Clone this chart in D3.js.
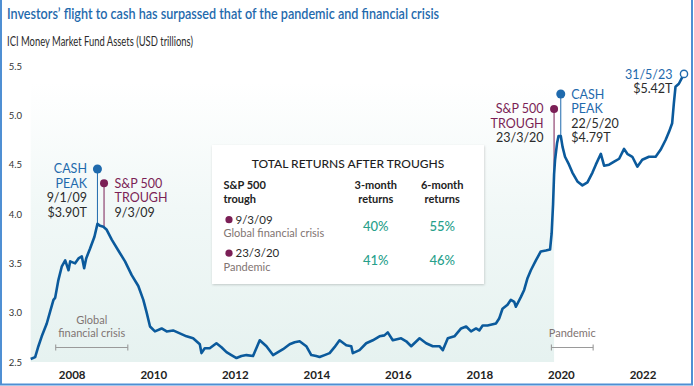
<!DOCTYPE html>
<html><head><meta charset="utf-8">
<script src="https://cdn.jsdelivr.net/npm/d3@7"></script>
<style>
body{margin:0;background:#fff}
svg{display:block}
text{font-family:Lato,"Open Sans","DejaVu Sans",sans-serif}
</style>
</head><body>
<svg id="c" width="694" height="386"></svg>
<script>
// ---------------- DATA ----------------
const dates = ["2007-05-22","2007-07-01","2007-07-30","2007-08-29","2007-10-13","2007-11-12","2007-12-12","2007-12-27",
"2008-01-25","2008-02-25","2008-03-26","2008-04-25","2008-05-10","2008-06-23","2008-07-23","2008-08-22","2008-09-12","2008-09-30","2008-11-04","2008-12-13",
"2009-01-09","2009-02-02","2009-03-03","2009-04-02","2009-05-17","2009-07-15","2009-09-13","2009-11-12",
"2010-01-10","2010-02-24","2010-03-26","2010-04-25","2010-06-08","2010-08-07","2010-09-21","2010-11-18",
"2011-01-17","2011-03-18","2011-05-16","2011-07-15","2011-07-30","2011-08-28","2011-10-12","2011-12-11",
"2012-01-25","2012-03-10","2012-04-23","2012-06-08","2012-07-22","2012-09-05","2012-11-03",
"2013-01-02","2013-02-01","2013-03-03","2013-05-01","2013-06-15","2013-07-30","2013-09-27","2013-11-11","2013-12-25",
"2014-02-23","2014-04-09","2014-05-23","2014-06-22","2014-08-06","2014-09-20","2014-11-03","2014-12-18",
"2015-02-16","2015-04-02","2015-04-16","2015-06-15","2015-08-14","2015-10-12","2015-12-11",
"2016-01-24","2016-02-23","2016-04-08","2016-06-22","2016-08-06","2016-09-20","2016-12-04",
"2017-02-01","2017-04-01","2017-05-31","2017-06-30","2017-08-14","2017-10-12","2017-12-11",
"2018-01-25","2018-03-10","2018-04-24","2018-05-23","2018-06-22","2018-08-05","2018-10-19","2018-11-17","2018-12-17",
"2019-01-31","2019-03-02","2019-04-01","2019-04-16","2019-05-31","2019-06-29","2019-07-29","2019-08-28","2019-10-12","2019-11-25",
"2020-01-09","2020-02-16","2020-03-01","2020-03-14","2020-03-23","2020-04-01","2020-04-19","2020-05-02","2020-05-22","2020-06-07","2020-06-29","2020-08-04","2020-09-03","2020-10-18","2020-12-02",
"2021-01-16","2021-03-02","2021-04-01","2021-05-16","2021-06-14","2021-07-29","2021-09-12","2021-10-27","2021-12-10",
"2022-01-08","2022-02-22","2022-04-08","2022-05-22","2022-07-21","2022-09-19","2022-11-02","2022-12-17",
"2023-01-16","2023-02-14","2023-03-01","2023-03-16","2023-04-15","2023-05-31"];
const assets = [2.53,2.55,2.66,2.76,2.89,3.01,3.13,3.15,
3.33,3.47,3.53,3.43,3.52,3.50,3.55,3.57,3.45,3.55,3.65,3.77,
3.90,3.88,3.87,3.84,3.74,3.63,3.52,3.38,
3.27,3.13,3.00,2.86,2.81,2.84,2.81,2.82,
2.79,2.76,2.74,2.68,2.59,2.64,2.64,2.69,
2.65,2.60,2.57,2.54,2.56,2.57,2.56,
2.72,2.69,2.66,2.57,2.60,2.63,2.68,2.70,2.71,
2.66,2.57,2.56,2.55,2.57,2.59,2.65,2.72,
2.67,2.66,2.59,2.62,2.69,2.72,2.76,
2.77,2.80,2.72,2.74,2.71,2.66,2.74,
2.69,2.66,2.66,2.62,2.74,2.76,2.84,
2.86,2.81,2.84,2.82,2.87,2.87,2.89,2.94,3.04,
3.08,3.13,3.11,3.06,3.16,3.23,3.35,3.43,3.53,3.62,
3.63,3.64,3.80,4.10,4.40,4.55,4.72,4.79,4.79,4.68,4.58,4.50,4.42,4.33,4.29,
4.32,4.42,4.50,4.61,4.49,4.50,4.53,4.56,4.66,
4.61,4.58,4.48,4.55,4.58,4.58,4.65,4.75,
4.83,4.92,5.12,5.29,5.32,5.42];

const yTicks = [2.5, 3.0, 3.5, 4.0, 4.5, 5.0, 5.5];
const xTickYears = [2008, 2010, 2012, 2014, 2016, 2018, 2020, 2022];

const title = "Investors\u2019 flight to cash has surpassed that of the pandemic and financial crisis";
const subtitle = "ICI Money Market Fund Assets (USD trillions)";

const crisisNames = [["Global", "financial crisis"], ["Pandemic"]];
const crisisStart = ["2008-01-01", "2020-02-28"];
const crisisEnd = ["2009-10-08", "2021-03-08"];

const peakDates = ["2009-01-09", "2020-05-22"];
const peakLabels = [["CASH", "PEAK", "9/1/09", "$3.90T"], ["CASH", "PEAK", "22/5/20", "$4.79T"]];
const troughDates = ["2009-03-09", "2020-03-23"];
const troughLabels = [["S&P 500", "TROUGH", "9/3/09"], ["S&P 500", "TROUGH", "23/3/20"]];
const lastLabel = ["31/5/23", "$5.42T"];

const tableTitle = "TOTAL RETURNS AFTER TROUGHS";
const tableHeaders = [["S&P 500", "trough"], ["3-month", "returns"], ["6-month", "returns"]];
const tableTroughs = ["9/3/09", "23/3/20"];
const tableEvents = ["Global financial crisis", "Pandemic"];
const returns3m = ["40%", "41%"];
const returns6m = ["55%", "46%"];

// ---------------- STYLE ----------------
const C = {
  line: "#0b5a9c", blue: "#1f6aad", purple: "#7b1f56", dark: "#2b2b2b",
  gray: "#7f7472", green: "#27a08b", border: "#4f8fd3", bracket: "#9a9a9a"
};

const parse = d3.timeParse("%Y-%m-%d");
const data = dates.map((d, i) => ({ date: parse(d), v: assets[i] }));

const svg = d3.select("#c");

const x = d3.scaleTime().domain(d3.extent(data, d => d.date)).range([30.7, 684]);
const y = d3.scaleLinear().domain([2.5, 5.5]).range([362, 66]);

const bis = d3.bisector(d => d.date).left;
function valueAt(dt) {
  const i = bis(data, dt);
  if (i <= 0) return data[0].v;
  if (i >= data.length) return data[data.length - 1].v;
  const a = data[i - 1], b = data[i];
  const t = (dt - a.date) / (b.date - a.date);
  return a.v + t * (b.v - a.v);
}

// defs
const defs = svg.append("defs");
const grad = defs.append("linearGradient").attr("id", "bg").attr("x1", 0).attr("y1", 0).attr("x2", 0).attr("y2", 1);
grad.append("stop").attr("offset", "0%").attr("stop-color", "#ffffff");
grad.append("stop").attr("offset", "45%").attr("stop-color", "#f1f8f7");
grad.append("stop").attr("offset", "100%").attr("stop-color", "#e6f2f0");
const filt = defs.append("filter").attr("id", "sh").attr("x", "-10%").attr("y", "-10%").attr("width", "120%").attr("height", "125%");
filt.append("feDropShadow").attr("dx", 0.5).attr("dy", 1).attr("stdDeviation", 1.3).attr("flood-color", "#000").attr("flood-opacity", 0.18);

// shaded period background (up to pandemic trough)
const shadeEnd = x(parse(troughDates[1]));
svg.append("rect")
  .attr("x", x(data[0].date)).attr("y", 82)
  .attr("width", shadeEnd - x(data[0].date)).attr("height", y(2.5) - 82)
  .attr("fill", "url(#bg)");

// title
svg.append("text").attr("x", 7).attr("y", 19)
  .attr("font-size", 16).attr("font-weight", 600).attr("fill", C.blue)
  .attr("textLength", 432).attr("lengthAdjust", "spacingAndGlyphs")
  .text(title);
svg.append("text").attr("x", 7).attr("y", 46)
  .attr("font-size", 13).attr("fill", C.dark)
  .attr("textLength", 186).attr("lengthAdjust", "spacingAndGlyphs")
  .text(subtitle);

// y axis labels
const yAxis = d3.axisLeft(y).tickValues(yTicks).tickFormat(d3.format(".1f")).tickSize(0).tickPadding(0);
const gy = svg.append("g").attr("transform", "translate(22,0)").call(yAxis);
gy.select(".domain").remove();
gy.selectAll("text").attr("font-size", 9.5).attr("fill", "#333").attr("font-family", "Lato, sans-serif").attr("dy", "0.35em");

// x axis labels
const xAxis = d3.axisBottom(x).tickValues(xTickYears.map(yv => new Date(yv, 0, 1)))
  .tickFormat(d3.timeFormat("%Y")).tickSize(0).tickPadding(0);
const gx = svg.append("g").attr("transform", "translate(16,371)").call(xAxis);
gx.select(".domain").remove();
gx.selectAll("text").attr("font-size", 11.5).attr("font-weight", 700).attr("fill", "#222")
  .attr("font-family", "Lato, sans-serif").attr("dy", "0.71em");

// crisis brackets
crisisNames.forEach((lines, i) => {
  const x0 = x(parse(crisisStart[i])), x1 = x(parse(crisisEnd[i]));
  const by = 347.5, cx = (x0 + x1) / 2;
  const g = svg.append("g").attr("stroke", C.bracket).attr("stroke-width", 1.1);
  g.append("line").attr("x1", x0).attr("x2", x1).attr("y1", by).attr("y2", by);
  g.append("line").attr("x1", x0).attr("x2", x0).attr("y1", by - 3).attr("y2", by + 3);
  g.append("line").attr("x1", x1).attr("x2", x1).attr("y1", by - 3).attr("y2", by + 3);
  lines.forEach((t, j) => {
    svg.append("text").attr("x", cx).attr("y", by - 11 - (lines.length - 1 - j) * 12.5)
      .attr("text-anchor", "middle").attr("font-size", 11).attr("fill", C.gray).text(t);
  });
});

// stems + markers
const peakMarkerY = [169, 94];
const troughMarkerY = [183.3, 109];
troughDates.forEach((d, i) => {
  const dt = parse(d), px = x(dt);
  svg.append("line").attr("x1", px).attr("x2", px).attr("y1", troughMarkerY[i]).attr("y2", y(valueAt(dt)))
    .attr("stroke", C.purple).attr("stroke-width", 1);
});
peakDates.forEach((d, i) => {
  const dt = parse(d), px = x(dt);
  svg.append("line").attr("x1", px).attr("x2", px).attr("y1", peakMarkerY[i]).attr("y2", y(valueAt(dt)))
    .attr("stroke", C.blue).attr("stroke-width", 1);
});

// main line
const line = d3.line().x(d => x(d.date)).y(d => y(d.v)).curve(d3.curveLinear);
svg.append("path").datum(data).attr("d", line)
  .attr("fill", "none").attr("stroke", C.line).attr("stroke-width", 2.6).attr("stroke-linejoin", "round");

// markers
troughDates.forEach((d, i) => {
  svg.append("circle").attr("cx", x(parse(d))).attr("cy", troughMarkerY[i]).attr("r", 4).attr("fill", C.purple);
});
peakDates.forEach((d, i) => {
  svg.append("circle").attr("cx", x(parse(d))).attr("cy", peakMarkerY[i]).attr("r", 4.5).attr("fill", C.blue);
});
const last = data[data.length - 1];
svg.append("circle").attr("cx", x(last.date)).attr("cy", y(last.v)).attr("r", 3.6)
  .attr("fill", "#fff").attr("stroke", C.blue).attr("stroke-width", 1.4);

// annotation text
function block(lines, ax, baselines, anchor, colors) {
  lines.forEach((t, j) => {
    svg.append("text").attr("x", ax).attr("y", baselines[j]).attr("text-anchor", anchor)
      .attr("font-size", 12.5).attr("fill", colors[j]).text(t);
  });
}
{
  const px = x(parse(peakDates[0]));
  block(peakLabels[0], px - 10.5, [173, 187.5, 202, 216.5], "end", [C.blue, C.blue, C.dark, C.dark]);
  const tx = x(parse(troughDates[0]));
  block(troughLabels[0], tx + 10.5, [187.5, 202, 216.5], "start", [C.purple, C.purple, C.dark]);
}
{
  const tx = x(parse(troughDates[1]));
  block(troughLabels[1], tx - 10.5, [113.3, 127.5, 141.7], "end", [C.purple, C.purple, C.dark]);
  const px = x(parse(peakDates[1]));
  block(peakLabels[1], px + 10.5, [98.5, 113.3, 127.5, 141.7], "start", [C.blue, C.blue, C.dark, C.dark]);
}
{
  const lx = x(last.date) - 11.5;
  block(lastLabel, lx, [78.5, 93.3], "end", [C.blue, C.dark]);
}

// table box
const tb = { x: 212, y: 145, w: 272, h: 139 };
svg.append("rect").attr("x", tb.x).attr("y", tb.y).attr("width", tb.w).attr("height", tb.h)
  .attr("fill", "#fff").attr("filter", "url(#sh)");
svg.append("text").attr("x", 348).attr("y", 168.3).attr("text-anchor", "middle")
  .attr("font-size", 12).attr("font-weight", 500).attr("fill", "#1e1e1e").text(tableTitle);
const colX = [223.5, 375.8, 442.2];
const colAnchor = ["start", "middle", "middle"];
tableHeaders.forEach((h, i) => {
  h.forEach((t, j) => {
    svg.append("text").attr("x", colX[i]).attr("y", 189.3 + j * 14).attr("text-anchor", colAnchor[i])
      .attr("font-size", 11).attr("font-weight", 700).attr("fill", "#222").text(t);
  });
});
const rowY = [223.5, 257];
tableTroughs.forEach((t, i) => {
  const ry = rowY[i];
  svg.append("circle").attr("cx", 229).attr("cy", ry - 3.8).attr("r", 3.6).attr("fill", C.purple);
  svg.append("text").attr("x", 235.5).attr("y", ry).attr("font-size", 11.5).attr("fill", C.dark).text(t);
  svg.append("text").attr("x", colX[0]).attr("y", ry + 13.5).attr("font-size", 11).attr("fill", C.gray).text(tableEvents[i]);
  svg.append("text").attr("x", colX[1]).attr("y", ry + 7.5).attr("text-anchor", "middle")
    .attr("font-size", 13).attr("font-weight", 500).attr("fill", C.green).text(returns3m[i]);
  svg.append("text").attr("x", colX[2]).attr("y", ry + 7.5).attr("text-anchor", "middle")
    .attr("font-size", 13).attr("font-weight", 500).attr("fill", C.green).text(returns6m[i]);
});

// frame (left, right, bottom)
const fr = svg.append("g").attr("stroke", C.border).attr("stroke-width", 2).attr("fill", "none");
fr.append("path").attr("d", "M1,0 V384.5 H692 V0");
</script>
</body></html>
